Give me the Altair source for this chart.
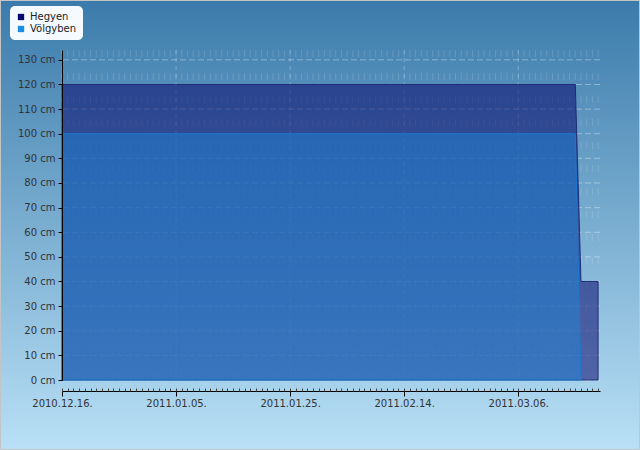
import altair as alt
import pandas as pd

# ---- data ----
series = ["Hegyen", "Völgyben"]
series_colors = ["#0a0a6e", "#1a8ee0"]
hegyen_dates = ["2010-12-16", "2011-03-16", "2011-03-17", "2011-03-20"]
hegyen_values = [120, 120, 40, 40]
volgyben_dates = ["2010-12-16", "2011-03-16", "2011-03-17"]
volgyben_values = [100, 100, 0]
y_ticks = list(range(0, 131, 10))
x_major = ["2010-12-16", "2011-01-05", "2011-01-25", "2011-02-14", "2011-03-06"]
x_start = "2010-12-16"
x_end = "2011-03-20T08:00:00"


def ms(s):
    return int(pd.Timestamp(s, tz="UTC").value // 10**6)


x_minor = [ms(d) for d in pd.date_range("2010-12-16", "2011-03-20", freq="D").strftime("%Y-%m-%d")]

df_h = pd.DataFrame({"d": [ms(d) for d in hegyen_dates], "v": hegyen_values, "s": series[0]})
df_v = pd.DataFrame({"d": [ms(d) for d in volgyben_dates], "v": volgyben_values, "s": series[1]})

W, H = 538, 330
FONT = "DejaVu Sans"

xscale = alt.Scale(type="utc", domain=[ms(x_start), ms(x_end)], nice=False)
yscale = alt.Scale(domain=[0, 134], nice=False, zero=True)

yaxis = alt.Axis(values=y_ticks, labelExpr="datum.value + ' cm'", tickSize=4, labelPadding=3,
                 domainColor="#000000", tickColor="#000000", grid=False, title=None, zindex=1,
                 labelFont=FONT, labelFontSize=10, labelColor="#333333")
xaxis_major = alt.Axis(orient="bottom", values=[ms(d) for d in x_major],
                       labelExpr="utcFormat(datum.value, '%Y.%m.%d.')",
                       offset=11, tickSize=5, labelPadding=2, zindex=1,
                       domainColor="#000000", tickColor="#000000", grid=False, title=None,
                       labelFlush=False, labelOverlap=False,
                       labelFont=FONT, labelFontSize=10, labelColor="#333333")
xaxis_minor = alt.Axis(orient="bottom", values=x_minor, labels=False, domain=False, zindex=1,
                       tickSize=3, offset=8, tickColor="#444444", grid=False, title=None)

color = alt.Color("s:N", scale=alt.Scale(domain=series, range=series_colors),
                  legend=alt.Legend(orient="none", legendX=-52, legendY=-44, title=None,
                                    fillColor="#f5faff", cornerRadius=5, padding=6,
                                    symbolType="square", symbolSize=40, symbolOpacity=1,
                                    symbolStrokeWidth=0, labelFont=FONT, labelFontSize=10,
                                    labelColor="#222222", labelOffset=4, rowPadding=2))

gradient = alt.LinearGradient(gradient="linear",
                              stops=[alt.GradientStop(color="#3b7bab", offset=0),
                                     alt.GradientStop(color="#b9e0f6", offset=1)],
                              x1=0, x2=0, y1=0, y2=1)

bg = alt.Chart(pd.DataFrame({"k": [0]})).mark_rect(
    fill=gradient, stroke="#c4c4c4", strokeWidth=1
).encode(x=alt.value(-61.5), x2=alt.value(577.5), y=alt.value(-49.5), y2=alt.value(399.5))

hgrid = alt.Chart(pd.DataFrame({"g": y_ticks})).mark_rule(
    stroke="#ffffff", strokeOpacity=0.36, strokeDash=[6, 3], strokeWidth=1
).encode(y=alt.Y("g:Q", scale=yscale, axis=yaxis))

vmajor = alt.Chart(pd.DataFrame({"d": [ms(d) for d in x_major]})).mark_rule(
    stroke="#ffffff", strokeOpacity=0.28, strokeDash=[4, 4], strokeWidth=1
).encode(x=alt.X("d:T", scale=xscale, axis=xaxis_major))

vminor = alt.Chart(pd.DataFrame({"d": x_minor})).mark_rule(
    stroke="#ffffff", strokeOpacity=0.15, strokeDash=[7, 16], strokeWidth=1
).encode(x=alt.X("d:T", scale=xscale, axis=xaxis_minor))

area_h = alt.Chart(df_h).mark_area(
    fillOpacity=0.55, stroke="#1a2470", strokeWidth=1, strokeOpacity=0.9
).encode(x=alt.X("d:T", scale=xscale, axis=None),
         y=alt.Y("v:Q", scale=yscale, axis=yaxis), color=color)

area_v = alt.Chart(df_v).mark_area(
    fillOpacity=0.42, stroke="#1a7ad0", strokeWidth=1, strokeOpacity=0.9
).encode(x=alt.X("d:T", scale=xscale, axis=None),
         y=alt.Y("v:Q", scale=yscale, axis=yaxis), color=color)

chart = alt.layer(bg, hgrid, vmajor, vminor, area_h, area_v).resolve_axis(
    x="independent"
).properties(
    width=W, height=H,
    autosize=alt.AutoSizeParams(type="none"),
    padding={"left": 62, "top": 50, "right": 40, "bottom": 70},
).configure_view(stroke=None)

chart.save("out.html", embed_options={"renderer": "svg", "actions": False})
